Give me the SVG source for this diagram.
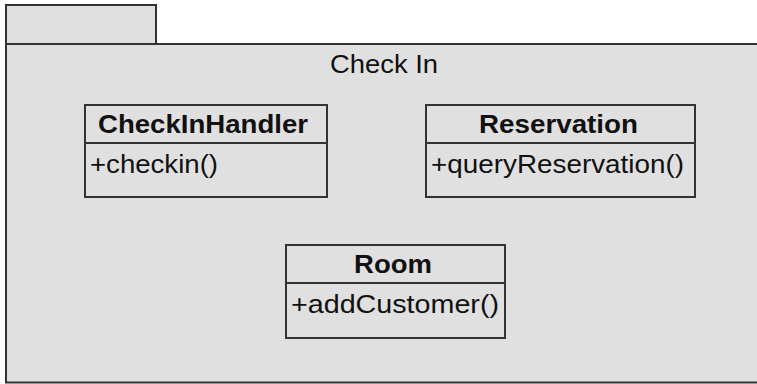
<svg xmlns="http://www.w3.org/2000/svg" width="757" height="384" viewBox="0 0 757 384">
<style>
.shape{fill:#e0e0e0;stroke:#333;stroke-width:2}
.line{stroke:#333;stroke-width:2;fill:none}
text{font-family:"Liberation Sans",Arial,sans-serif;fill:#111}
.title{font-size:25.5px;font-weight:bold;text-anchor:middle}
.op{font-size:25px}
.pkg{font-size:26px;text-anchor:middle}
</style>
<rect width="757" height="384" fill="#ffffff"/>
<g id="package">
<rect class="shape" x="6" y="5" width="150" height="39"/>
<rect class="shape" x="6" y="44" width="800" height="338.5"/>
<text class="pkg" x="384" y="73" textLength="108" lengthAdjust="spacingAndGlyphs">Check In</text>
</g>
<g id="CheckInHandler">
<rect class="shape" x="85" y="105" width="242" height="92"/>
<line class="line" x1="85" y1="143" x2="327" y2="143"/>
<text class="title" x="203" y="133" textLength="210" lengthAdjust="spacingAndGlyphs">CheckInHandler</text>
<text class="op" x="90" y="173" textLength="128" lengthAdjust="spacingAndGlyphs">+checkin()</text>
</g>
<g id="Reservation">
<rect class="shape" x="426" y="105" width="269" height="92"/>
<line class="line" x1="426" y1="143" x2="695" y2="143"/>
<text class="title" x="558.5" y="133" textLength="159" lengthAdjust="spacingAndGlyphs">Reservation</text>
<text class="op" x="431" y="173" textLength="253" lengthAdjust="spacingAndGlyphs">+queryReservation()</text>
</g>
<g id="Room">
<rect class="shape" x="286" y="245" width="219" height="93"/>
<line class="line" x1="286" y1="283" x2="505" y2="283"/>
<text class="title" x="393" y="273" textLength="78" lengthAdjust="spacingAndGlyphs">Room</text>
<text class="op" x="291" y="313" textLength="208" lengthAdjust="spacingAndGlyphs">+addCustomer()</text>
</g>
<g id="connectors"></g>
</svg>
